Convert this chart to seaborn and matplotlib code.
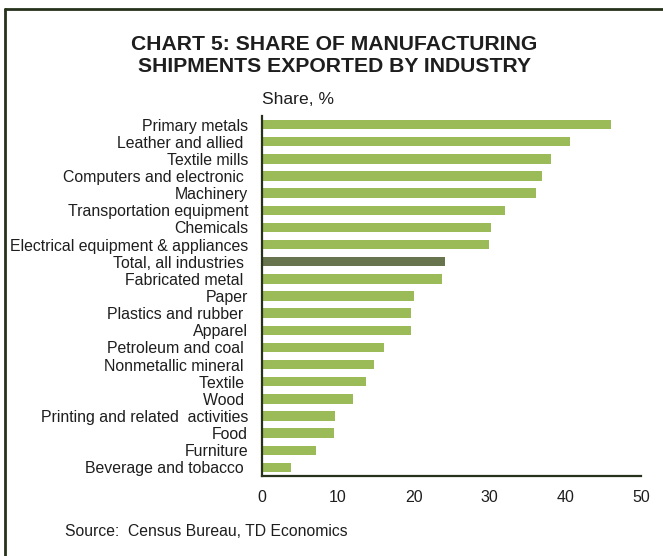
import matplotlib
matplotlib.use("Agg")
import matplotlib.pyplot as plt
from matplotlib.lines import Line2D
import seaborn as sns
import pandas as pd

industries = [
    "Primary metals", "Leather and allied ", "Textile mills",
    "Computers and electronic ", "Machinery", "Transportation equipment",
    "Chemicals", "Electrical equipment & appliances", "Total, all industries ",
    "Fabricated metal ", "Paper", "Plastics and rubber ", "Apparel",
    "Petroleum and coal ", "Nonmetallic mineral ", "Textile ", "Wood ",
    "Printing and related  activities", "Food", "Furniture",
    "Beverage and tobacco ",
]
share = [46.1, 40.6, 38.1, 37.0, 36.1, 32.1, 30.2, 29.9, 24.1, 23.8,
         20.1, 19.7, 19.7, 16.1, 14.8, 13.7, 12.0, 9.6, 9.5, 7.1, 3.8]
x_ticks = [0, 10, 20, 30, 40, 50]

green = "#9BBB59"
olive = "#68744D"
dark = "#26321c"
text_col = "#1e1e1e"
colors = [olive if name.startswith("Total") else green for name in industries]

df = pd.DataFrame({"industry": industries, "share": share})

sns.set_theme(style="white")
plt.rcParams["font.family"] = ["Liberation Sans", "DejaVu Sans"]

fig = plt.figure(figsize=(6.63, 5.56), dpi=100)
ax = fig.add_axes([262 / 663, 1 - 476 / 556, (641 - 262) / 663, (476 - 116) / 556])

sns.barplot(data=df, x="share", y="industry", hue="industry",
            palette=colors, legend=False, width=0.55, ax=ax,
            saturation=1, edgecolor="none")

ax.set_xlim(0, 50)
ax.set_ylim(len(industries) - 0.5, -0.5)
ax.set_xticks(x_ticks)
ax.set_xticklabels([str(t) for t in x_ticks], fontsize=11.5, color=text_col)
ax.tick_params(axis="x", length=0, pad=10)
ax.tick_params(axis="y", length=0, pad=10, labelsize=11.4, labelcolor=text_col)
ax.set_xlabel("")
ax.set_ylabel("")

for side in ("top", "right"):
    ax.spines[side].set_visible(False)
for side in ("left", "bottom"):
    ax.spines[side].set_color(dark)
    ax.spines[side].set_linewidth(1.6)

fig.text(334 / 663, 1 - 44 / 556, "CHART 5: SHARE OF MANUFACTURING",
         ha="center", va="center", fontsize=15.2, fontweight="bold", color=text_col)
fig.text(334 / 663, 1 - 66 / 556, "SHIPMENTS EXPORTED BY INDUSTRY",
         ha="center", va="center", fontsize=15.2, fontweight="bold", color=text_col)
fig.text(262 / 663, 1 - 100 / 556, "Share, %", ha="left", va="center",
         fontsize=12.6, color=text_col)
fig.text(65 / 663, 1 - 532 / 556, "Source:  Census Bureau, TD Economics",
         ha="left", va="center", fontsize=11.3, color=text_col)

# frame around the chart panel
fig.add_artist(Line2D([5 / 663, 1.0], [1 - 9 / 556, 1 - 9 / 556],
                      transform=fig.transFigure, color=dark, linewidth=2))
fig.add_artist(Line2D([5 / 663, 5 / 663], [0.0, 1 - 9 / 556],
                      transform=fig.transFigure, color=dark, linewidth=2))

fig.savefig("out.png", dpi=100)
